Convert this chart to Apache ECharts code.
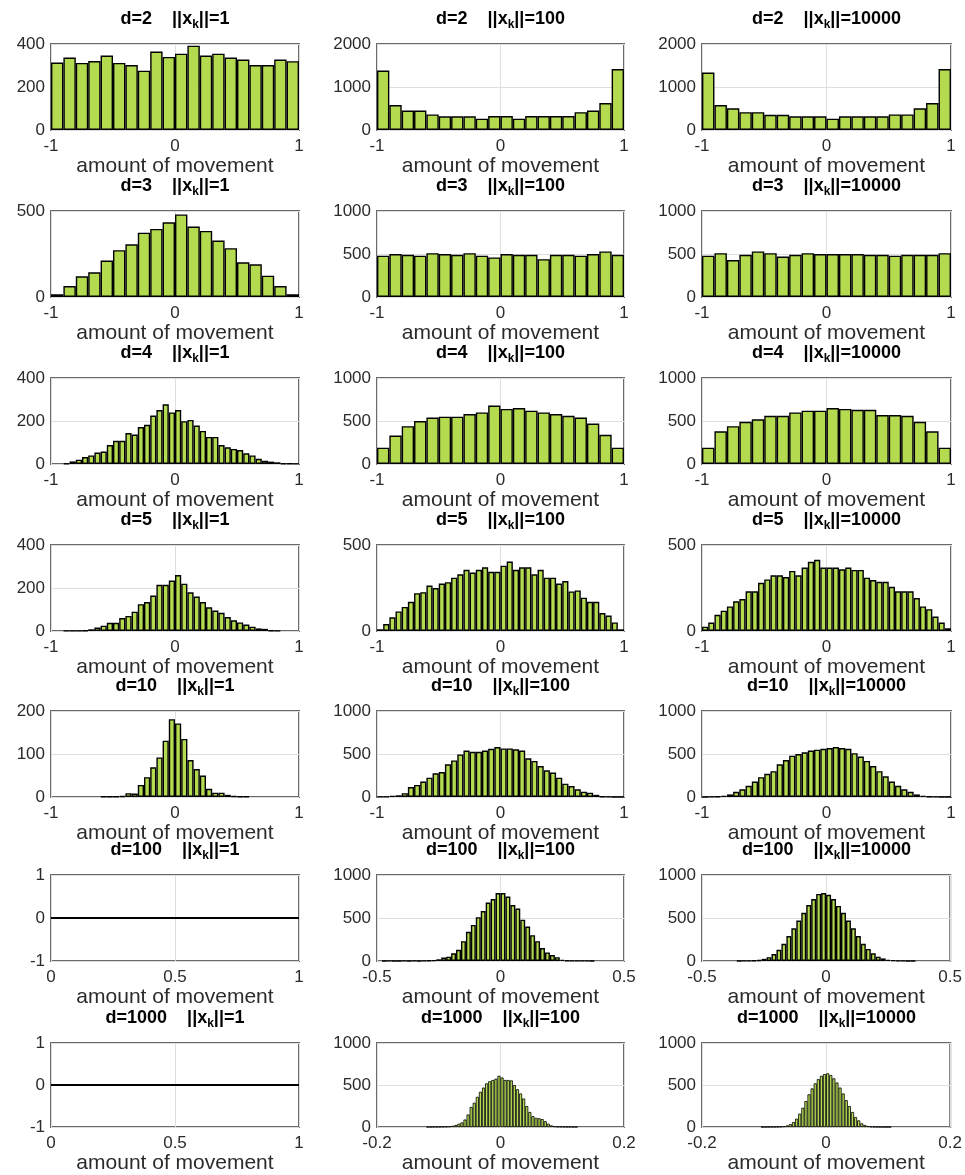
<!DOCTYPE html>
<html>
<head>
<meta charset="utf-8">
<script src="https://cdn.jsdelivr.net/npm/echarts@6/dist/echarts.min.js"></script>
<style>
  html, body { margin: 0; padding: 0; background: #ffffff; }
  #chart { width: 965px; height: 1175px; }
</style>
</head>
<body>
<div id="chart"></div>
<script>
// Histograms of the amount of movement, one row per dimension d,
// one column per norm ||x_k||.
const dims = [2, 3, 4, 5, 10, 100, 1000];
const norms = [1, 100, 10000];

// Y tick labels for each panel (row by row)
const yTicks = [
  [[0, 200, 400], [0, 1000, 2000], [0, 1000, 2000]],
  [[0, 500], [0, 500, 1000], [0, 500, 1000]],
  [[0, 200, 400], [0, 500, 1000], [0, 500, 1000]],
  [[0, 200, 400], [0, 500], [0, 500]],
  [[0, 100, 200], [0, 500, 1000], [0, 500, 1000]],
  [[-1, 0, 1], [0, 500, 1000], [0, 500, 1000]],
  [[-1, 0, 1], [0, 500, 1000], [0, 500, 1000]]
];
// X tick labels
const xTicksUnit = [-1, 0, 1];
const xTicksHalf = [-0.5, 0, 0.5];
const xTicksFifth = [-0.2, 0, 0.2];
const xTicksEmpty = [0, 0.5, 1];

// Counts per bin
const cnt_d2_n1 = [314, 337, 312, 321, 346, 312, 302, 276, 365, 340, 355, 392, 346, 355, 337, 328, 302, 302, 328, 320];
const cnt_d2_n100 = [1381, 581, 453, 453, 362, 317, 317, 317, 264, 325, 325, 264, 325, 325, 325, 325, 415, 453, 626, 1419];
const cnt_d2_n10000 = [1336, 581, 506, 415, 415, 355, 355, 317, 317, 317, 264, 317, 317, 317, 317, 362, 362, 506, 626, 1419];

const cnt_d3_n1 = [16, 64, 120, 144, 212, 272, 306, 374, 396, 434, 480, 410, 384, 328, 284, 202, 190, 124, 64, 16];
const cnt_d3_n100 = [480, 500, 490, 480, 510, 500, 490, 510, 480, 460, 500, 490, 490, 440, 490, 490, 480, 500, 530, 490];
const cnt_d3_n10000 = [480, 510, 430, 490, 530, 510, 470, 490, 510, 500, 500, 500, 500, 490, 490, 480, 490, 490, 490, 510];

const cnt_d4_n1 = [3, 12, 20, 32, 40, 53, 58, 88, 108, 108, 144, 137, 172, 182, 225, 251, 278, 240, 251, 199, 205, 179, 154, 126, 126, 88, 78, 70, 65, 50, 40, 24, 15, 11, 8, 3, 2, 1];
const cnt_d4_n100 = [190, 330, 440, 500, 540, 550, 550, 580, 600, 680, 640, 650, 620, 600, 580, 560, 540, 470, 340, 190];
const cnt_d4_n10000 = [190, 380, 440, 490, 520, 560, 560, 600, 620, 620, 650, 640, 630, 630, 570, 570, 560, 490, 380, 190];

const cnt_d5_n1 = [1, 1, 1, 2, 8, 16, 25, 38, 38, 60, 70, 90, 125, 135, 165, 215, 215, 235, 260, 220, 180, 160, 135, 110, 95, 85, 65, 50, 40, 30, 20, 12, 10, 3, 1];
const cnt_d5_n100 = [10, 40, 80, 114, 140, 170, 220, 226, 264, 250, 276, 284, 310, 330, 356, 340, 356, 370, 344, 344, 380, 404, 356, 370, 370, 330, 356, 310, 310, 276, 290, 230, 236, 194, 170, 170, 104, 90, 50, 10];
const cnt_d5_n10000 = [25, 49, 94, 118, 143, 173, 186, 231, 231, 280, 300, 324, 324, 314, 349, 324, 369, 402, 414, 369, 369, 369, 359, 369, 355, 355, 310, 296, 286, 286, 257, 231, 231, 231, 192, 143, 127, 84, 49, 16];

const cnt_d10_n1 = [1, 1, 1, 2, 9, 8, 28, 46, 69, 92, 131, 181, 171, 135, 86, 65, 50, 19, 10, 10, 5, 2, 1, 1];
const cnt_d10_n100 = [3, 3, 15, 20, 45, 115, 140, 180, 225, 275, 290, 380, 425, 495, 540, 525, 525, 540, 560, 580, 565, 565, 555, 540, 450, 420, 360, 310, 285, 225, 155, 128, 90, 62, 50, 25, 5, 3, 1, 1];
const cnt_d10_n10000 = [1, 2, 5, 15, 30, 60, 90, 130, 180, 230, 270, 300, 380, 430, 480, 500, 520, 540, 550, 560, 570, 580, 570, 560, 510, 470, 420, 360, 300, 240, 180, 130, 90, 60, 30, 15, 5, 2, 1, 1];

const cnt_d100_n100 = [1, 2, 1, 1, 2, 1, 2, 1, 3, 5, 8, 20, 40, 50, 90, 130, 230, 340, 420, 510, 580, 680, 720, 790, 790, 750, 650, 610, 480, 400, 300, 230, 150, 100, 70, 45, 15, 5, 3, 2, 2, 3, 1];
const cnt_d100_n10000 = [1, 2, 3, 5, 10, 25, 45, 80, 130, 200, 290, 380, 470, 560, 650, 720, 780, 790, 770, 720, 640, 560, 470, 380, 290, 200, 140, 90, 50, 30, 15, 8, 4, 2, 1, 1];

const cnt_d1000_n100 = [2, 2, 3, 3, 4, 5, 6, 8, 15, 25, 40, 55, 90, 150, 240, 290, 360, 420, 470, 520, 545, 560, 575, 610, 590, 560, 560, 555, 500, 450, 400, 340, 250, 180, 130, 110, 105, 95, 70, 40, 20, 10, 6, 5, 4, 3, 3, 2, 2];
const cnt_d1000_n10000 = [1, 2, 2, 3, 3, 4, 6, 10, 20, 35, 60, 100, 160, 230, 310, 390, 460, 520, 570, 610, 630, 640, 620, 580, 530, 470, 400, 320, 250, 180, 120, 80, 45, 25, 12, 6, 4, 3, 2, 2, 1, 1];

// Bin layout: left edge of the first bin and bin width
const binStart = [
  [-1, -1, -1],
  [-1, -1, -1],
  [-0.9, -1, -1],
  [-0.9, -1, -1],
  [-0.6, -1, -1],
  [null, -0.48, -0.36],
  [null, -0.12, -0.105]
];
const binWidth = [
  [0.1, 0.1, 0.1],
  [0.1, 0.1, 0.1],
  [0.05, 0.1, 0.1],
  [0.05, 0.05, 0.05],
  [0.05, 0.05, 0.05],
  [null, 0.02, 0.02],
  [null, 0.005, 0.005]
];
const counts = [
  [cnt_d2_n1, cnt_d2_n100, cnt_d2_n10000],
  [cnt_d3_n1, cnt_d3_n100, cnt_d3_n10000],
  [cnt_d4_n1, cnt_d4_n100, cnt_d4_n10000],
  [cnt_d5_n1, cnt_d5_n100, cnt_d5_n10000],
  [cnt_d10_n1, cnt_d10_n100, cnt_d10_n10000],
  [null, cnt_d100_n100, cnt_d100_n10000],
  [null, cnt_d1000_n100, cnt_d1000_n10000]
];
// Panels with no histogram show a flat line at zero
const flatX = [0, 1];
const flatY = [0, 0];

// ---- layout ----
const colLeft = [51, 377, 702];
const colWidth = [248, 247, 249];
const rowTop = [44, 211, 378, 545, 711, 875, 1043];
const plotHeight = 86;

const FONT = '"Liberation Sans", Arial, Helvetica, sans-serif';
const BAR_FILL = '#b4db50';
const FRAME = '#6a6a6a';
const GRID_LINE = '#dedede';
const TEXT = '#2b2b2b';

const grids = [], xAxes = [], yAxes = [], series = [], titles = [];

function fmt(v) {
  return String(Math.round(v * 1000) / 1000);
}

dims.forEach((d, r) => {
  norms.forEach((n, c) => {
    const idx = grids.length;
    const cnt = counts[r][c];
    const empty = !cnt;
    grids.push({
      left: colLeft[c], top: rowTop[r], width: colWidth[c], height: plotHeight,
      show: true, borderColor: FRAME, borderWidth: 2, backgroundColor: 'transparent'
    });

    let xt;
    if (empty) xt = xTicksEmpty;
    else if (r === 5) xt = xTicksHalf;
    else if (r === 6) xt = xTicksFifth;
    else xt = xTicksUnit;
    const yt = yTicks[r][c];

    xAxes.push({
      gridIndex: idx, type: 'value',
      min: xt[0], max: xt[xt.length - 1], interval: xt[1] - xt[0],
      axisLine: { show: false }, axisTick: { show: false },
      splitLine: { show: true, lineStyle: { color: GRID_LINE, width: 1 } },
      axisLabel: { fontSize: 17, color: TEXT, fontFamily: FONT, margin: 8, formatter: fmt },
      name: 'amount of movement', nameLocation: 'middle', nameGap: 24,
      nameTextStyle: { fontSize: 21, color: TEXT, fontFamily: FONT }
    });
    yAxes.push({
      gridIndex: idx, type: 'value',
      min: yt[0], max: yt[yt.length - 1], interval: yt[1] - yt[0],
      axisLine: { show: false }, axisTick: { show: false },
      splitLine: { show: true, lineStyle: { color: GRID_LINE, width: 1 } },
      axisLabel: { fontSize: 17, color: TEXT, fontFamily: FONT, margin: 6, formatter: fmt }
    });

    if (empty) {
      series.push({
        type: 'line', xAxisIndex: idx, yAxisIndex: idx,
        data: flatX.map((x, i) => [x, flatY[i]]),
        symbol: 'none', lineStyle: { color: '#000', width: 2 }, z: 5
      });
    } else {
      const w = binWidth[r][c], s0 = binStart[r][c];
      // narrow bins get a thinner outline so the fill still shows
      const edge = r === 6 ? 0.8 : 1.4;
      series.push({
        type: 'bar', xAxisIndex: idx, yAxisIndex: idx,
        data: cnt.map((v, i) => [s0 + w * (i + 0.5), v]),
        barWidth: '100%',
        itemStyle: { color: BAR_FILL, borderColor: '#000', borderWidth: edge },
        emphasis: { disabled: true },
        z: 3
      });
    }

    titles.push({
      left: colLeft[c] + colWidth[c] / 2, top: rowTop[r] - 25,
      textAlign: 'center', textVerticalAlign: 'middle', padding: 0,
      text: '{t|d=' + d + '    ||x}{s|k}{t|||=' + n + '}',
      textStyle: {
        rich: {
          t: { fontSize: 18, fontWeight: 'bold', color: '#000', fontFamily: FONT },
          s: { fontSize: 12, fontWeight: 'bold', color: '#000', fontFamily: FONT, padding: [11, 0, 0, 0] }
        }
      }
    });
  });
});

const chart = echarts.init(document.getElementById('chart'), null, { renderer: 'canvas' });
chart.setOption({
  animation: false,
  backgroundColor: '#ffffff',
  title: titles,
  grid: grids,
  xAxis: xAxes,
  yAxis: yAxes,
  series: series
});
</script>
</body>
</html>
